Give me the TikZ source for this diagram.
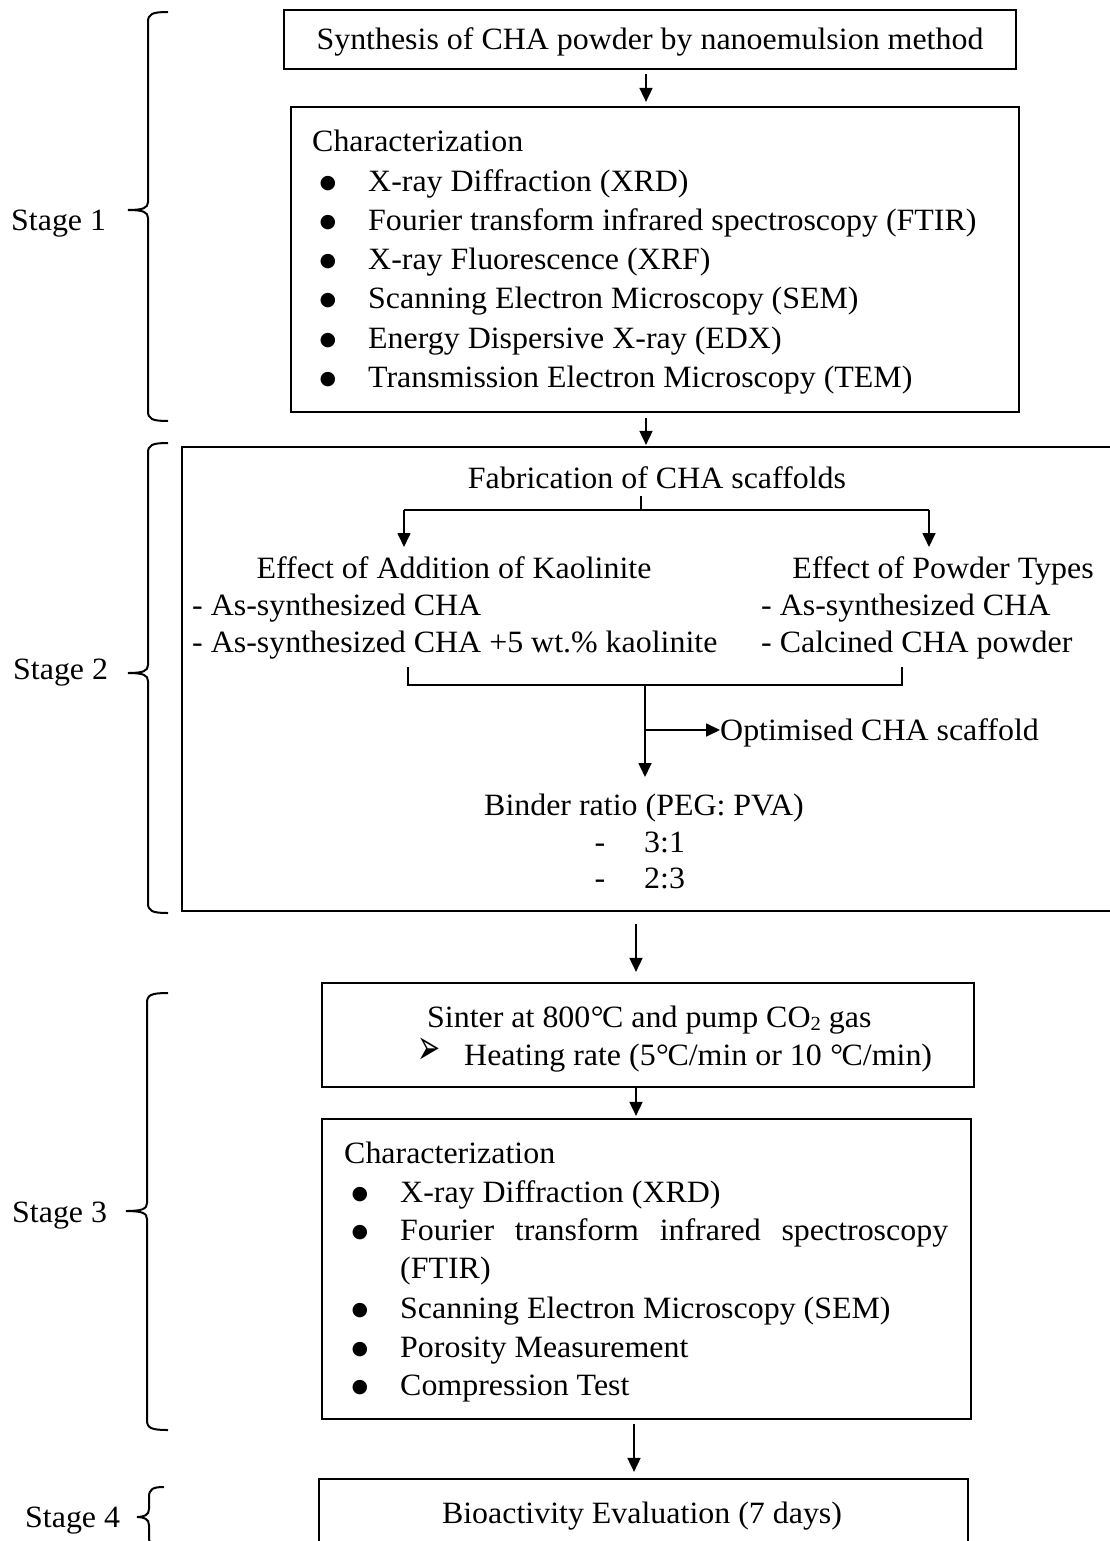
\documentclass[tikz,border=0pt]{standalone}
\usepackage{fontspec}
\setmainfont{Liberation Serif}[FakeStretch=1.03]
\newfontfamily\dejavu{DejaVu Sans}
\usetikzlibrary{arrows.meta,calc}
\newcommand{\mainfs}{\fontsize{31}{39}\selectfont}
\newcommand{\degC}{\kern0.5pt°\kern-1.5pt C}
\newcommand{\bul}{{\dejavu\fontsize{19}{19}\selectfont\raisebox{3pt}{●}}}
% brace: #1 vertical x, #2 top, #3 middle, #4 bottom, #5 hook length, #6 tip length
\newcommand{\stbrace}[6]{%
  \draw[bracestyle] ({#1+#5},#2) .. controls ({#1+4},#2) and (#1,{#2+2}) .. (#1,{#2+10})
    -- (#1,{#3-8}) .. controls (#1,{#3-2}) and ({#1-5},#3) .. ({#1-#6},#3)
    .. controls ({#1-5},#3) and (#1,{#3+2}) .. (#1,{#3+8})
    -- (#1,{#4-10}) .. controls (#1,{#4-2}) and ({#1+4},#4) .. ({#1+#5},#4);}
\tikzset{
  box/.style={draw, line width=2.2pt, inner sep=0pt},
  txt/.style={inner sep=0pt, font=\mainfs, anchor=base west},
  ctxt/.style={inner sep=0pt, font=\mainfs, anchor=base},
  arr/.style={line width=1.7pt, -{Triangle[length=14pt,width=13pt]}},
  ln/.style={line width=1.7pt},
  bracestyle/.style={line width=2pt}
}
\begin{document}
\begin{tikzpicture}[x=1pt,y=-1pt]
\clip (0,0) rectangle (1110,1541);
\fill[white] (0,0) rectangle (1110,1541);

% ---------- Stage 1 ----------
\node[box, minimum width=732pt, minimum height=59pt] (b1) at (650,39.5) {};
\node[ctxt] (t1) at (650,50) {Synthesis of CHA powder by nanoemulsion method};

\node[box, minimum width=728pt, minimum height=305pt] (b2) at (655,259.5) {};
\node[txt] (c1h) at (312,152) {Characterization};
\foreach \yy/\tt [count=\i] in {192/X-ray Diffraction (XRD),
  230/Fourier transform infrared spectroscopy (FTIR),
  269/X-ray Fluorescence (XRF),
  308/Scanning Electron Microscopy (SEM),
  348/Energy Dispersive X-ray (EDX),
  387/Transmission Electron Microscopy (TEM)}{
  \node[ctxt] (c1b\i) at (328,\yy) {\bul};
  \node[txt] (c1t\i) at (368,\yy) {\tt};
}

\coordinate (x1) at (646,0);
\draw[arr, shorten <=4pt, shorten >=4pt] (b1.south -| x1) -- (b2.north -| x1);

% ---------- Stage 2 ----------
\node[box, minimum width=940pt, minimum height=464pt] (b3) at (652,679) {};
\draw[arr, shorten <=5pt, shorten >=1pt] (b2.south -| x1) -- (b3.north -| x1);

\node[ctxt] (fab) at (657,488) {Fabrication of CHA scaffolds};
\coordinate (sp0) at (641,496);
\coordinate (sp1) at (641,510);
\coordinate (spl) at (404,510);
\coordinate (spr) at (929,510);
\coordinate (spla) at (404,547);
\coordinate (spra) at (929,547);
\draw[ln] (sp0) -- (sp1);
\draw[ln] (spl) -- (spr);
\draw[arr] (spl) -- (spla);
\draw[arr] (spr) -- (spra);

\node[ctxt] (kao) at (454,578) {Effect of Addition of Kaolinite};
\node[txt] (kao1) at (192,615) {- As-synthesized CHA};
\node[txt] (kao2) at (192,652) {- As-synthesized CHA +5 wt.\% kaolinite};
\node[ctxt] (pow) at (943,578) {Effect of Powder Types};
\node[txt] (pow1) at (761,615) {- As-synthesized CHA};
\node[txt] (pow2) at (761,652) {- Calcined CHA powder};

\coordinate (mlt) at (408,667);
\coordinate (mlb) at (408,685);
\coordinate (mrt) at (902,667);
\coordinate (mrb) at (902,685);
\coordinate (ms) at (645,685);
\coordinate (msb) at (645,777);
\coordinate (mb) at (645,730);
\draw[ln] (mlt) -- (mlb) -- (mrb) -- (mrt);
\draw[arr] (ms) -- (msb);
\node[txt] (opt) at (720,740) {Optimised CHA scaffold};
\draw[arr] (mb) -- (mb -| opt.west);

\node[ctxt] (bind) at (644,815) {Binder ratio (PEG: PVA)};
\node[ctxt] (d1) at (600,852) {-};
\node[txt] (r1) at (644,852) {3:1};
\node[ctxt] (d2) at (600,888) {-};
\node[txt] (r2) at (644,888) {2:3};

% ---------- Stage 3 ----------
\node[box, minimum width=652pt, minimum height=104pt] (b4) at (648,1035) {};
\coordinate (x3) at (636,0);
\draw[arr, shorten <=12pt, shorten >=10pt] (b3.south -| x3) -- (b4.north -| x3);
\node[txt] (sin) at (427,1027) {Sinter at 800\degC{} and pump CO{\fontsize{20}{20}\selectfont\raisebox{-3pt}{2}} gas};
\node[txt] (hb) at (417,1064) {{\dejavu\fontsize{50}{50}\selectfont\scalebox{0.55}[1]{➢}}};
\node[txt] (heat) at (464,1065) {Heating rate (5\degC/min or 10 \degC/min)};

\node[box, minimum width=649pt, minimum height=300pt] (b5) at (646.5,1269) {};
\draw[arr, shorten >=2pt] (b4.south -| x3) -- (b5.north -| x3);
\node[txt] (c2h) at (344,1163) {Characterization};
\node[ctxt] (c2b1) at (360,1202) {\bul};
\node[txt] (c2t1) at (400,1202) {X-ray Diffraction (XRD)};
\node[ctxt] (c2b2) at (360,1240) {\bul};
\node[txt] (c2t2) at (400,1240) {\makebox[548pt][s]{Fourier transform infrared spectroscopy}};
\node[txt] (c2t2b) at (400,1278) {(FTIR)};
\node[ctxt] (c2b3) at (360,1318) {\bul};
\node[txt] (c2t3) at (400,1318) {Scanning Electron Microscopy (SEM)};
\node[ctxt] (c2b4) at (360,1357) {\bul};
\node[txt] (c2t4) at (400,1357) {Porosity Measurement};
\node[ctxt] (c2b5) at (360,1395) {\bul};
\node[txt] (c2t5) at (400,1395) {Compression Test};

% ---------- Stage 4 ----------
\node[box, minimum width=649pt, minimum height=160pt] (b6) at (643.5,1559) {};
\coordinate (x4) at (634,0);
\draw[arr, shorten <=4pt, shorten >=6pt] (b5.south -| x4) -- (b6.north -| x4);
\node[ctxt] (bio) at (642,1523) {Bioactivity Evaluation (7 days)};

% ---------- braces and stage labels ----------
\stbrace{148}{12}{210}{421}{20}{20}
\node[txt] (s1) at (11,230) {Stage 1};
\stbrace{148}{443}{673}{913}{20}{20}
\node[txt] (s2) at (13,679) {Stage 2};
\stbrace{147}{993}{1211}{1430}{21}{21}
\node[txt] (s3) at (12,1222) {Stage 3};
\stbrace{149}{1487}{1517}{1547}{15}{12}
\node[txt] (s4) at (25,1527) {Stage 4};
\end{tikzpicture}
\end{document}
